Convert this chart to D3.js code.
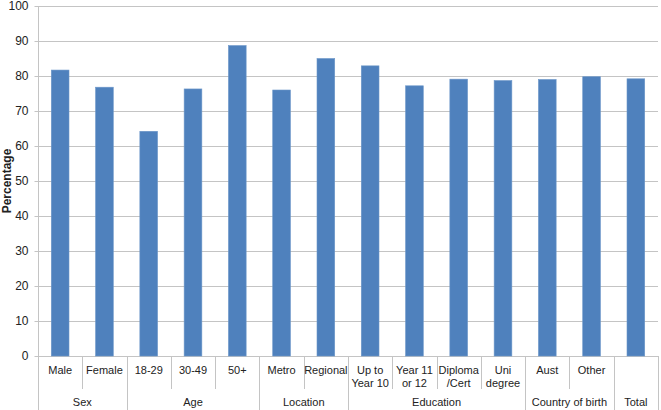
<!DOCTYPE html>
<html>
<head>
<script src="https://cdn.jsdelivr.net/npm/d3@7"></script>
<style>
  body { margin: 0; background: #fff; }
  text { font-family: "Liberation Sans", Arial, sans-serif; fill: #222; }
</style>
</head>
<body>
<script>
// the Total column has no label of its own, only its group label
var categories = ["Male", "Female", "18-29", "30-49", "50+", "Metro", "Regional",
  "Up to\nYear 10", "Year 11\nor 12", "Diploma\n/Cert", "Uni\ndegree", "Aust", "Other", ""];
var values = [81.7, 76.8, 64.2, 76.3, 88.7, 76.0, 85.0, 82.9, 77.2, 79.1, 78.7, 79.0, 79.8, 79.2];
var groups = ["Sex", "Age", "Location", "Education", "Country of birth", "Total"];
var groupSizes = [2, 3, 2, 4, 2, 1];
var yTicks = [0, 10, 20, 30, 40, 50, 60, 70, 80, 90, 100];

var w = 661, h = 410;
var margin = {top: 6, left: 38, right: 3, bottom: 54};

var svg = d3.select("body").append("svg")
  .attr("width", w)
  .attr("height", h);

var x = d3.scaleBand()
  .domain(d3.range(categories.length))
  .range([margin.left, w - margin.right])
  .paddingInner(0.6)
  .paddingOuter(0.3);

var band = d3.scaleBand()
  .domain(d3.range(categories.length))
  .range([margin.left, w - margin.right]);

var y = d3.scaleLinear()
  .domain([0, 100])
  .range([h - margin.bottom, margin.top]);

// gridlines
svg.append("g")
  .selectAll("line")
  .data(yTicks)
  .enter().append("line")
  .attr("x1", margin.left)
  .attr("x2", w - margin.right)
  .attr("y1", function (d) { return Math.round(y(d)) + 0.5; })
  .attr("y2", function (d) { return Math.round(y(d)) + 0.5; })
  .attr("stroke", "#c4c4c4")
  .attr("stroke-width", 1);

// y axis
var yAxis = svg.append("g")
  .attr("transform", "translate(" + (margin.left + 0.5) + ",0)")
  .call(d3.axisLeft(y).tickValues(yTicks).tickSize(4).tickPadding(6));
yAxis.select(".domain").remove();
yAxis.selectAll("line").attr("stroke", "#c4c4c4");
yAxis.selectAll("text").style("font-size", "12px").attr("fill", "#222")
  .attr("font-family", "Liberation Sans, Arial, sans-serif");

svg.append("text")
  .attr("transform", "translate(11," + y(50) + ") rotate(-90)")
  .attr("text-anchor", "middle")
  .style("font-size", "12px")
  .style("font-weight", "bold")
  .text("Percentage");

// bars
svg.append("g")
  .selectAll("rect")
  .data(values)
  .enter().append("rect")
  .attr("x", function (d, i) { return x(i); })
  .attr("width", x.bandwidth())
  .attr("y", function (d) { return y(d); })
  .attr("height", function (d) { return y(0) - y(d); })
  .attr("fill", "#4f81bd")
  .attr("stroke", "#6d97c9")
  .attr("stroke-width", 0.6);

// category separators
var y0 = y(0);
var groupEnds = [];
var acc = 0;
groupSizes.forEach(function (s) { acc += s; groupEnds.push(acc); });

var sep = svg.append("g").attr("stroke", "#c4c4c4").attr("stroke-width", 1);
for (var i = 1; i <= categories.length; i++) {
  var xx = Math.round(margin.left + i * band.bandwidth()) + 0.5;
  var full = groupEnds.indexOf(i) >= 0;
  sep.append("line")
    .attr("x1", xx).attr("x2", xx)
    .attr("y1", y0)
    .attr("y2", full ? h : y0 + 33);
}

// left axis line
sep.append("line")
  .attr("x1", margin.left + 0.5).attr("x2", margin.left + 0.5)
  .attr("y1", margin.top).attr("y2", h);

// category labels
categories.forEach(function (c, i) {
  var lines = c.split("\n");
  var t = svg.append("text")
    .attr("x", band(i) + band.bandwidth() / 2)
    .attr("y", y0 + 18)
    .attr("text-anchor", "middle")
    .style("font-size", "11px");
  lines.forEach(function (l, j) {
    t.append("tspan")
      .attr("x", band(i) + band.bandwidth() / 2)
      .attr("dy", j === 0 ? 0 : 12.5)
      .text(l);
  });
});

// group labels
var start = 0;
groups.forEach(function (g, k) {
  var end = start + groupSizes[k];
  var cx = (band(start) + band(end - 1) + band.bandwidth()) / 2;
  svg.append("text")
    .attr("x", cx)
    .attr("y", h - 4)
    .attr("text-anchor", "middle")
    .style("font-size", "11px")
    .text(g);
  start = end;
});
</script>
</body>
</html>
